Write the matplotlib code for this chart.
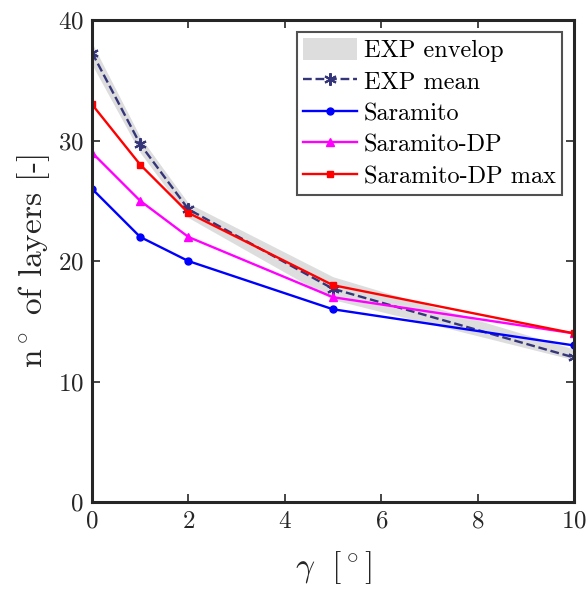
import numpy as np
import matplotlib
matplotlib.use('Agg')
import matplotlib.pyplot as plt

# data
gamma = [0, 1, 2, 5, 10]
exp_mean = [37.3, 29.7, 24.3, 17.7, 12.0]
exp_low = [36.3, 29.0, 23.6, 16.8, 11.8]
exp_high = [38.1, 30.3, 24.8, 18.7, 12.7]
saramito = [26, 22, 20, 16, 13]
saramito_dp = [29, 25, 22, 17, 14]
saramito_dp_max = [33, 28, 24, 18, 14]

plt.rcParams['font.family'] = 'cmr10'
plt.rcParams['mathtext.fontset'] = 'cm'
plt.rcParams['axes.formatter.use_mathtext'] = True
plt.rcParams['font.size'] = 18

fig = plt.figure(figsize=(5.86, 5.90), dpi=100)
ax = fig.add_axes([0.157, 0.149, 0.8225, 0.817])

ax.fill_between(gamma, exp_low, exp_high, color='#dddddd', lw=0, label='EXP envelop')
ax.plot(gamma, exp_mean, '--', color='#35357a', lw=1.7, marker=(6, 2, 0), ms=9, mew=1.5,
        label='EXP mean')
ax.plot(gamma, saramito, '-', color='#0000ff', lw=1.7, marker='o', ms=5, label='Saramito')
ax.plot(gamma, saramito_dp, '-', color='#ff00ff', lw=1.7, marker='^', ms=6, label='Saramito-DP')
ax.plot(gamma, saramito_dp_max, '-', color='#ff0000', lw=1.7, marker='s', ms=5,
        label='Saramito-DP max')

ax.set_xlim(0, 10)
ax.set_ylim(0, 40)
ax.set_xticks([0, 2, 4, 6, 8, 10])
ax.set_yticks([0, 10, 20, 30, 40])
ax.tick_params(direction='in', top=True, right=True, length=6, width=1.2,
               labelsize=18, colors='#262626', pad=6)
for s in ax.spines.values():
    s.set_linewidth(2.2)
    s.set_color('#262626')

ax.set_xlabel(r'$\gamma\ \ [^\circ]$', fontsize=24, color='#262626', labelpad=12)
ax.set_ylabel(r'n$^\circ$ of layers [-]', fontsize=24, color='#262626', labelpad=4)

leg = ax.legend(loc='upper right', fontsize=17.5, frameon=True, fancybox=False,
                edgecolor='#262626', handlelength=2.2, handleheight=1.0, handletextpad=0.3,
                borderpad=0.25, labelspacing=0.3, borderaxespad=0.5)
leg.get_frame().set_linewidth(1.5)

fig.savefig('out.png', dpi=100)
